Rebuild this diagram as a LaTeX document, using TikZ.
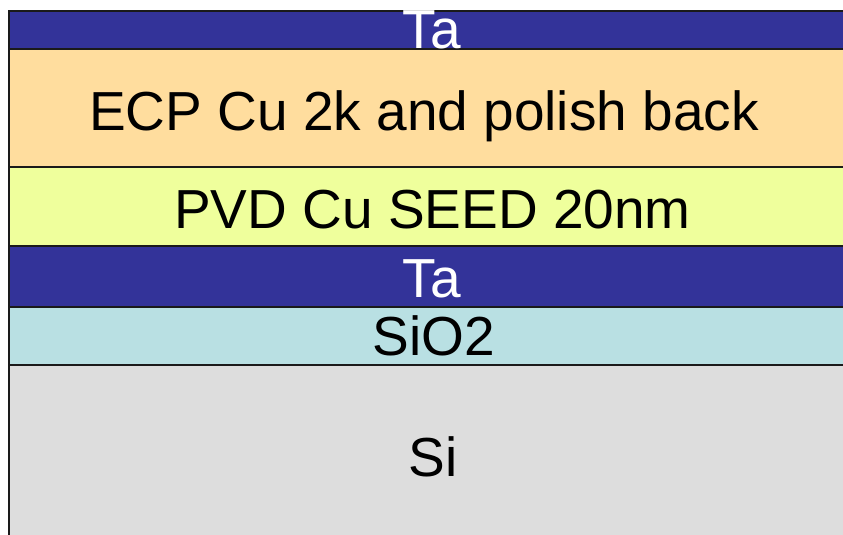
\documentclass[tikz,border=0pt]{standalone}
\usepackage{fontspec}
\setmainfont{Liberation Sans}
\usepackage{xcolor}
\usepackage{tikz}
\definecolor{tablue}{HTML}{333399}
\definecolor{ecpcu}{HTML}{FFDD9E}
\definecolor{seedcu}{HTML}{EFFF9C}
\definecolor{oxide}{HTML}{B9E0E3}
\definecolor{silicon}{HTML}{DDDDDD}
\definecolor{edge}{HTML}{1A1A1A}
\tikzset{
  layer/.style={draw=edge,line width=1pt},
  layertext/.style={font=\fontsize{27.5}{33}\selectfont,anchor=base,inner sep=0pt},
  lighttext/.style={layertext,text=white}
}

\begin{document}
\begin{tikzpicture}[x=.5pt,y=-.5pt]
  \clip (0,0) rectangle (843,535);
  \fill[white] (0,0) rectangle (843,535);
  % stack, bottom to top
  \draw[layer,fill=silicon] (9,365) rectangle (880,560);
  \draw[layer,fill=oxide] (9,307) rectangle (880,365);
  \draw[layer,fill=tablue] (9,246) rectangle (880,307);
  \draw[layer,fill=seedcu] (9,167) rectangle (880,246);
  \draw[layer,fill=ecpcu] (9,49) rectangle (880,167);
  \draw[layer,fill=tablue] (9,11) rectangle (880,49);
  \node[layertext] (si) at (433,477) {Si};
  \node[layertext] (sio2) at (434,356) {SiO2};
  \node[lighttext] (ta) at (432,298) {Ta};
  \node[layertext] (seed) at (432.5,229) {PVD Cu SEED 20nm};
  \node[layertext] (ecp) at (424,131) {ECP Cu 2k and polish back};
  \node[lighttext] (tatop) at (432,49) {Ta};
\end{tikzpicture}
\end{document}
